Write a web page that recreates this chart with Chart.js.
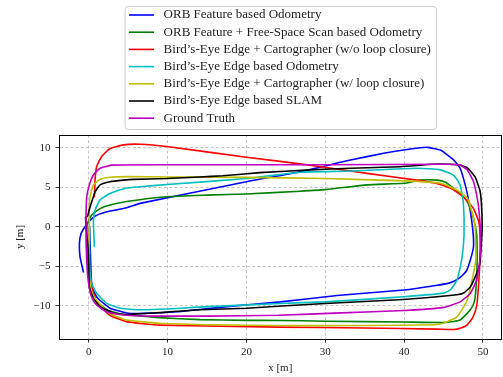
<!DOCTYPE html>
<html>
<head>
<meta charset="utf-8">
<script src="https://cdn.jsdelivr.net/npm/chart.js@4.4.0/dist/chart.umd.min.js"></script>
<style>
  html, body { margin: 0; padding: 0; background: #fff; }
  #wrap { width: 503px; height: 377px; }
</style>
</head>
<body>
<div id="wrap"><canvas id="traj" width="503" height="377"></canvas></div>
<script>
// series names (legend order)
const seriesNames = [
  'ORB Feature based Odometry',
  'ORB Feature + Free-Space Scan based Odometry',
  'Bird\u2019s-Eye Edge + Cartographer (w/o loop closure)',
  'Bird\u2019s-Eye Edge based Odometry',
  'Bird\u2019s-Eye Edge + Cartographer (w/ loop closure)',
  'Bird\u2019s-Eye Edge based SLAM',
  'Ground Truth'
];
const seriesColors = ['#0000ff', '#008000', '#ff0000', '#00bfbf', '#bfbf00', '#000000', '#bf00bf'];

// axis ticks and limits
const xTicks = [0, 10, 20, 30, 40, 50];
const yTicks = [-10, -5, 0, 5, 10];
const xLimits = [-3.77, 52.35];
const yLimits = [-14.2, 11.61];

// ORB Feature based Odometry
const orbX = [0.1, 0.2, 0.25, 0.3, 0.38, 0.7, 1.2, 2.7, 4.8, 6.9, 11.2, 17.5, 24.3, 31.5, 40, 44.2, 45.8, 47.0, 47.9, 48.4, 48.8, 48.7, 48.2, 47.75, 47.1, 46.3, 44.6, 42.9, 40.8, 37.4, 33.2, 26.8, 20, 6.5, 4.8, 2.3, 0.8, 0, -0.47, -0.97, -1.18, -1.1, -0.68];
const orbY = [0, -3, -4.5, -6, -7.2, -8.3, -9.1, -10.3, -10.9, -10.96, -10.76, -10.1, -9.5, -8.7, -8.0, -7.4, -7.1, -6.5, -5.6, -4.2, -2.5, -0.3, 3.2, 5.3, 7.4, 8.44, 9.7, 10.05, 9.84, 9.3, 8.44, 6.96, 5.7, 2.96, 2.4, 1.9, 1.35, 0.63, 0, -0.85, -2.1, -3.8, -5.7];

// ORB Feature + Free-Space Scan based Odometry
const orbFsX = [-0.2, 0.38, 1.44, 2.7, 4.8, 9.9, 15, 20, 26.8, 30, 35.3, 40, 42, 44.2, 45.3, 46.3, 47.3, 48, 48.8, 49.2, 49.25, 49.1, 48.9, 48.4, 47.1, 45.4, 40, 30, 24.3, 20, 14.1, 9, 7.8, 4.5, 2.5, 1, 0.2, -0.1, -0.3, -0.2];
const orbFsY = [0.4, 1.5, 2.3, 2.75, 3.2, 3.8, 4.0, 4.15, 4.5, 4.7, 5.3, 5.5, 5.9, 5.9, 5.6, 4.86, 4.0, 3.2, 1.06, -1, -5, -8, -9.5, -10.5, -11.8, -12.1, -12.05, -11.95, -11.85, -11.84, -11.75, -11.5, -11.4, -11.1, -10.6, -9.5, -8, -5, -2, 0.4];

// Bird's-Eye Edge + Cartographer (w/o loop closure)
const cartoX = [0.72, 0.8, 1.0, 1.65, 2.7, 4.4, 6.5, 9.9, 20, 28, 35.3, 41.6, 44, 45.9, 47.5, 48.8, 49.5, 49.65, 49.6, 49.4, 49.2, 48.7, 48, 47.2, 46.3, 44.2, 35, 24.3, 9, 4.8, 2.7, 1.0, 0.38, 0.1, 0.05, 0.1];
const cartoY = [3.8, 5.9, 7.6, 8.9, 9.9, 10.36, 10.44, 10.15, 8.8, 7.8, 6.76, 5.9, 5.5, 4.86, 3.8, 2.3, 0.5, -2, -4.65, -8.0, -10.0, -11.5, -12.4, -12.8, -13.0, -12.95, -12.8, -12.7, -12.45, -12.0, -11.2, -9.5, -7.6, -5, -2, 0];

// Bird's-Eye Edge based Odometry
const bevX = [0.1, 0.1, 0.15, 0.38, 1.0, 2.3, 4.0, 6.9, 9.9, 13.3, 24.3, 30, 39.9, 45, 45.85, 46.7, 47.3, 47.6, 47.5, 47.1, 46.3, 44.6, 41.6, 33.2, 26.8, 20, 9.9, 6.5, 4.8, 2.7, 1.44, 0.8, 0.6, 0.65, 0.72];
const bevY = [0, -3, -5.5, -7.2, -8.4, -9.7, -10.3, -10.5, -10.4, -10.2, -9.7, -9.5, -8.86, -8.4, -8.0, -6.75, -4.2, -1, 3.2, 5.3, 6.5, 7.2, 7.4, 7.05, 6.9, 6.1, 5.35, 5.06, 4.9, 4.2, 3.4, 2.1, 0.85, -1, -2.5];

// Bird's-Eye Edge + Cartographer (w/ loop closure)
const cartoLcX = [0.1, 0, 0, 0.16, 0.5, 1.0, 2.7, 4.8, 9, 16, 24, 35, 43.7, 45, 46.7, 48, 48.8, 49.1, 49, 48.6, 48, 46.7, 44.6, 40, 30, 20, 10, 4.8, 2.7, 1.44, 0.6, 0.17, 0.05, 0.1];
const cartoLcY = [0, -3, -5.5, -7.2, -8.5, -9.3, -11.0, -11.8, -12.2, -12.4, -12.5, -12.5, -12.4, -12.2, -11.4, -9.3, -5.9, -4, 0, 1.9, 3.6, 4.65, 5.5, 5.8, 6.1, 6.25, 6.3, 6.34, 6.26, 6.0, 5.3, 3.8, 2, 0];

// Bird's-Eye Edge based SLAM
const slamX = [-0.4, -0.3, -0.1, 0, 0.08, 0.6, 1.44, 3.1, 4.8, 6.5, 9.9, 14.1, 20, 30, 39.9, 45.8, 47.5, 48.4, 49.2, 49.6, 49.8, 49.9, 49.8, 49.6, 49, 48.1, 47.1, 45.8, 43.7, 39.5, 33.2, 28.1, 21.7, 17, 14.1, 9.9, 5.7, 4.4, 2.7, 1.44, 0.8, 0.17, -0.17, -0.4];
const slamY = [1.2, -0.5, -2.5, -4.65, -7.6, -9.1, -10.1, -10.9, -11.1, -11.0, -10.8, -10.5, -10.3, -9.7, -9.2, -8.7, -8.4, -7.6, -5.9, -4.65, -2.1, 0, 3.0, 4.65, 6.3, 7.4, 7.8, 7.9, 7.9, 7.6, 7.4, 7.2, 6.85, 6.45, 6.3, 6.1, 6.0, 5.9, 5.7, 5.3, 4.4, 2.5, 1.3, 1.2];

// Ground Truth
const gtX = [-0.35, -0.3, -0.25, -0.1, 0.16, 0.5, 1.0, 2.3, 4.8, 7.8, 15, 24, 32, 40, 45, 47.1, 48.4, 49.2, 49.6, 49.7, 49.5, 49.3, 48.8, 48, 47.1, 45, 30, 10, 3, 1.44, 0.59, 0.08, -0.25, -0.34, -0.35];
const gtY = [0, -3, -4.4, -6.5, -8.2, -9.2, -9.9, -10.8, -11.2, -11.3, -11.3, -11.2, -10.9, -10.6, -10.2, -9.5, -8.4, -6.7, -4.2, -1, 2, 3.5, 5.7, 7.2, 7.8, 7.9, 7.85, 7.85, 7.8, 7.4, 6.55, 5.3, 3.8, 1.7, 0];

const seriesXs = [orbX, orbFsX, cartoX, bevX, cartoLcX, slamX, gtX];
const seriesYs = [orbY, orbFsY, cartoY, bevY, cartoLcY, slamY, gtY];

const FONT = "'Liberation Serif', 'DejaVu Serif', serif";
const TEXT = '#222222';
Chart.defaults.font.family = FONT;
Chart.defaults.color = TEXT;

const fmt = v => (v < 0 ? '\u2212' + Math.abs(v) : String(v));

// matplotlib style frame round the axes
const framePlugin = {
  id: 'frame',
  afterDraw(chart) {
    const { ctx, chartArea: a } = chart;
    ctx.save();
    ctx.strokeStyle = '#000';
    ctx.lineWidth = 1;
    ctx.strokeRect(Math.round(a.left) + 0.5, Math.round(a.top) + 0.5,
      Math.round(a.right - a.left) - 1, Math.round(a.bottom - a.top));
    ctx.restore();
  }
};

// boxed legend above the axes, centred on the plot
const legendPlugin = {
  id: 'boxLegend',
  afterDraw(chart) {
    const { ctx, chartArea: a } = chart;
    ctx.save();
    ctx.font = '13px ' + FONT;
    const textW = Math.max(...seriesNames.map(n => ctx.measureText(n).width));
    const boxW = 44 + textW;
    const left = (a.left + a.right) / 2 - boxW / 2;
    const top = 6, bottom = 129, rowH = 17.2;

    ctx.beginPath();
    ctx.roundRect(left + 0.5, top + 0.5, boxW, bottom - top, 3);
    ctx.fillStyle = 'rgba(255,255,255,0.8)';
    ctx.fill();
    ctx.strokeStyle = '#cccccc';
    ctx.lineWidth = 1;
    ctx.stroke();

    seriesNames.forEach((name, i) => {
      const y = 15 + i * rowH;
      ctx.beginPath();
      ctx.moveTo(left + 4.4, y);
      ctx.lineTo(left + 29.4, y);
      ctx.strokeStyle = seriesColors[i];
      ctx.lineWidth = 1.6;
      ctx.stroke();
      ctx.fillStyle = TEXT;
      ctx.textBaseline = 'middle';
      ctx.textAlign = 'left';
      ctx.fillText(name, left + 39, y);
    });
    ctx.restore();
  }
};

const datasets = seriesNames.map((name, i) => ({
  label: name,
  data: seriesXs[i].map((x, j) => ({ x: x, y: seriesYs[i][j] })),
  borderColor: seriesColors[i],
  backgroundColor: seriesColors[i],
  borderWidth: 1.6,
  showLine: true,
  tension: 0.15,
  pointRadius: 0,
  borderJoinStyle: 'round',
  borderCapStyle: 'round',
  order: seriesNames.length - 1 - i
}));

new Chart(document.getElementById('traj').getContext('2d'), {
  type: 'scatter',
  data: { datasets: datasets },
  options: {
    responsive: false,
    animation: false,
    devicePixelRatio: 1,
    layout: { padding: { top: 135, right: 1.5, left: 0, bottom: 0 } },
    plugins: {
      legend: { display: false },
      tooltip: { enabled: false }
    },
    scales: {
      x: {
        type: 'linear',
        min: xLimits[0],
        max: xLimits[1],
        afterBuildTicks: s => { s.ticks = xTicks.map(v => ({ value: v })); },
        afterFit: s => { s.height = 38; },
        ticks: { callback: fmt, font: { size: 11 }, color: TEXT, padding: 3.5, maxRotation: 0 },
        grid: { color: '#b8b8b8', lineWidth: 0.8, tickColor: '#000', tickLength: 3.5, tickWidth: 0.8 },
        border: { display: true, color: '#000', width: 1, dash: [3, 2.2] },
        title: { display: true, text: 'x [m]', font: { size: 11 }, color: TEXT, padding: { top: 0, bottom: 2 } }
      },
      y: {
        type: 'linear',
        min: yLimits[0],
        max: yLimits[1],
        afterBuildTicks: s => { s.ticks = yTicks.map(v => ({ value: v })); },
        afterFit: s => { s.width = 59; },
        ticks: { callback: fmt, font: { size: 11 }, color: TEXT, padding: 5 },
        grid: { color: '#b8b8b8', lineWidth: 0.8, tickColor: '#000', tickLength: 3.5, tickWidth: 0.8 },
        border: { display: true, color: '#000', width: 1, dash: [3, 2.2] },
        title: { display: true, text: 'y [m]', font: { size: 11 }, color: TEXT, padding: { top: 13.4, bottom: 0 } }
      }
    }
  },
  plugins: [framePlugin, legendPlugin]
});
</script>
</body>
</html>
